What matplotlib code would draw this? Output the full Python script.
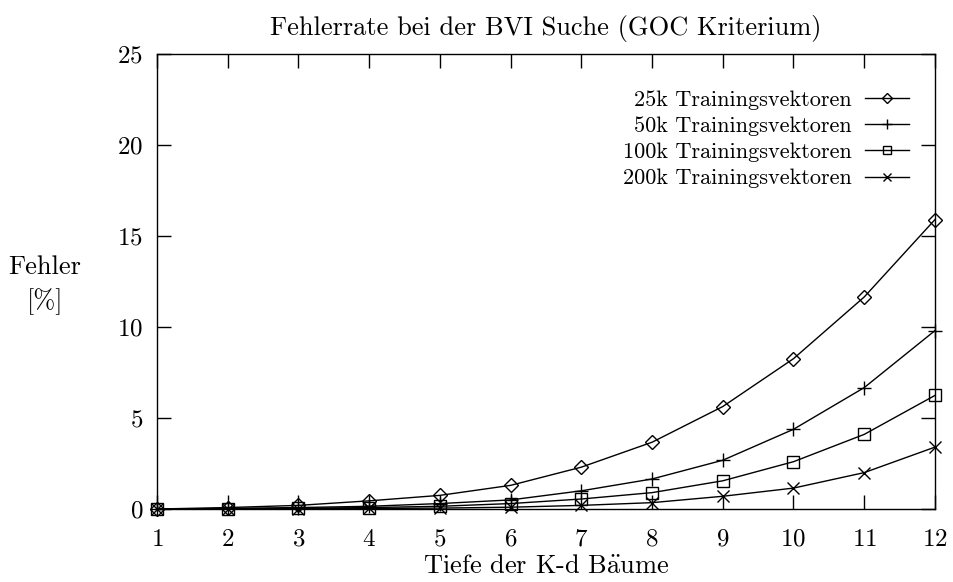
import matplotlib

matplotlib.use("Agg")

import matplotlib.pyplot as plt

plt.rcParams["font.family"] = ["cmr10", "DejaVu Serif"]
plt.rcParams["axes.formatter.use_mathtext"] = True
plt.rcParams["mathtext.fontset"] = "cm"

# Data: error rate [%] vs. depth of K-d trees
depth = [1, 2, 3, 4, 5, 6, 7, 8, 9, 10, 11, 12]
err_25k = [0.0, 0.08, 0.2, 0.45, 0.75, 1.3, 2.3, 3.67, 5.63, 8.26, 11.65, 15.9]
err_50k = [0.0, 0.03, 0.08, 0.15, 0.3, 0.5, 1.0, 1.65, 2.68, 4.38, 6.67, 9.8]
err_100k = [0.0, 0.02, 0.04, 0.08, 0.15, 0.3, 0.55, 0.9, 1.55, 2.6, 4.1, 6.24]
err_200k = [0.0, 0.01, 0.02, 0.03, 0.05, 0.1, 0.2, 0.35, 0.7, 1.15, 2.0, 3.4]

labels = [
    "25k Trainingsvektoren",
    "50k Trainingsvektoren",
    "100k Trainingsvektoren",
    "200k Trainingsvektoren",
]
series = [err_25k, err_50k, err_100k, err_200k]
markers = ["D", "+", "s", "x"]
msizes = [7, 10, 8, 8]

fig = plt.figure(figsize=(9.54, 5.82), dpi=100)
ax = fig.add_axes([0.1646, 0.1254, 0.8154, 0.7818])

for y, lab, m, ms in zip(series, labels, markers, msizes):
    ax.plot(
        depth,
        y,
        color="black",
        linewidth=1.0,
        marker=m,
        markersize=ms,
        markerfacecolor="none",
        markeredgecolor="black",
        markeredgewidth=1.0,
        label=lab,
        clip_on=False,
    )

ax.set_xlim(1, 12)
ax.set_ylim(0, 25)
ax.set_xticks(depth)
ax.set_yticks([0, 5, 10, 15, 20, 25])
ax.tick_params(direction="in", length=10, width=1.0, top=True, right=True,
               labelsize=18)
ax.tick_params(axis="x", pad=14)
ax.tick_params(axis="y", pad=10)
for s in ax.spines.values():
    s.set_linewidth(1.0)

ax.set_title("Fehlerrate bei der BVI Suche (GOC Kriterium)", fontsize=19, pad=14)
ax.set_xlabel(r"Tiefe der K-d B$\mathrm{\ddot{a}}$ume", fontsize=19, labelpad=3)
fig.text(0.047, 0.51, "Fehler\n[%]", fontsize=19, ha="center", va="center",
         multialignment="center", linespacing=1.45)

leg = ax.legend(
    loc="upper right",
    bbox_to_anchor=(0.993, 0.965),
    frameon=False,
    markerfirst=False,
    fontsize=16,
    handlelength=2.0,
    labelspacing=0.3,
    handletextpad=0.6,
    markerscale=0.75,
)
for t in leg.get_texts():
    t.set_ha("right")
leg._legend_box.align = "right"

plt.savefig("out.png", dpi=100)
plt.close()
